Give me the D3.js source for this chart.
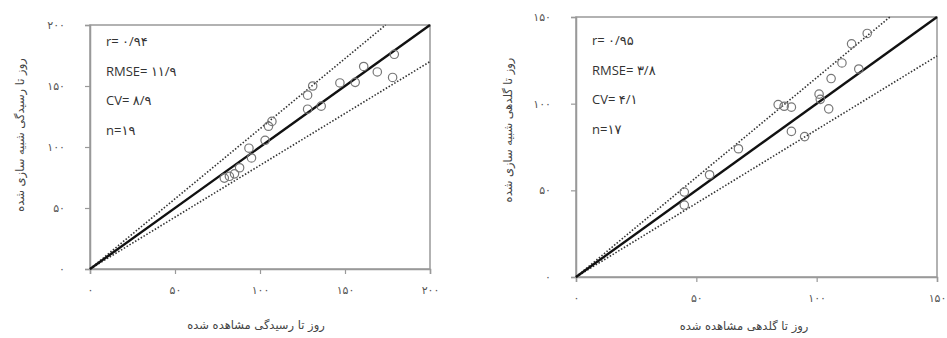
<!DOCTYPE html>
<html>
<head>
<meta charset="utf-8">
<script src="https://cdn.jsdelivr.net/npm/d3@7"></script>
<style>
  body { margin: 0; background: #fff; }
  svg { display: block; }
</style>
</head>
<body>
<div id="chart"></div>
<script>
// left panel: days to maturity (observed vs simulated)
const maturityObs = [179, 169, 161, 178, 156, 147, 131, 128, 136, 128, 107, 105, 103, 93.5, 95, 88, 85, 82, 79];
const maturitySim = [176, 161.5, 166, 157, 153, 152.5, 150, 142.5, 133.5, 131, 121, 117, 105.5, 99, 91, 83, 78, 76, 74.5];
const maturityTicks = [0, 50, 100, 150, 200];
const maturityStats = ["r= ۰/۹۴", "RMSE= ۱۱/۹", "CV= ۸/۹", "n=۱۹"];

// right panel: days to flowering (observed vs simulated)
const floweringObs = [121, 114.5, 110.5, 117.5, 106, 101, 101.5, 105, 84, 86.5, 89.5, 89.5, 95, 67.5, 55.5, 45, 45];
const floweringSim = [140.5, 134.5, 123.5, 120, 114.5, 105.5, 102.5, 97, 99.5, 98.5, 98, 84, 81, 74, 59, 49, 41.5];
const floweringTicks = [0, 50, 100, 150];
const floweringStats = ["r= ۰/۹۵", "RMSE= ۳/۸", "CV= ۴/۱", "n=۱۷"];

const bandFactors = [1.15, 0.85];

const faDigits = "۰۱۲۳۴۵۶۷۸۹";
const toFa = v => String(v).replace(/[0-9]/g, d => faDigits[+d]);

const svg = d3.select("#chart").append("svg")
  .attr("width", 947)
  .attr("height", 338);

function drawPanel(opt) {
  const { obs, sim, ticks, stats, left, right, top, bottom, xTitle, yTitle, xTitleX, xTitleY, yTitleX, yTitleY, labelY } = opt;
  const maxV = ticks[ticks.length - 1];

  const x = d3.scaleLinear().domain([0, maxV]).range([left, right]);
  const y = d3.scaleLinear().domain([0, maxV]).range([bottom, top]);

  const g = svg.append("g");

  // frame
  g.append("rect")
    .attr("x", left).attr("y", top)
    .attr("width", right - left).attr("height", bottom - top)
    .attr("fill", "none")
    .attr("stroke", "#999")
    .attr("stroke-width", 1.5);

  const xAxis = d3.axisBottom(x).tickValues(ticks).tickSize(5).tickPadding(12).tickFormat(toFa);
  const yAxis = d3.axisLeft(y).tickValues(ticks).tickSize(5).tickPadding(20).tickFormat(toFa);

  const gx = g.append("g").attr("transform", `translate(0,${bottom})`).call(xAxis);
  const gy = g.append("g").attr("transform", `translate(${left},0)`).call(yAxis);
  [gx, gy].forEach(a => {
    a.select(".domain").attr("stroke", "#999").attr("stroke-width", 1.5);
    a.selectAll(".tick line").attr("stroke", "#999").attr("stroke-width", 1.2);
    a.selectAll(".tick text")
      .attr("fill", "#555")
      .style("font-family", "'DejaVu Sans', sans-serif")
      .style("font-size", "11px")
      .style("letter-spacing", "2px");
  });

  // dotted ±15% lines
  bandFactors.forEach(f => {
    const endX = Math.min(maxV, maxV / f);
    g.append("line")
      .attr("x1", x(0)).attr("y1", y(0))
      .attr("x2", x(endX)).attr("y2", y(endX * f))
      .attr("stroke", "#333")
      .attr("stroke-width", 1.6)
      .attr("stroke-dasharray", "1.5,1.8");
  });

  // 1:1 line
  g.append("line")
    .attr("x1", x(0)).attr("y1", y(0))
    .attr("x2", x(maxV)).attr("y2", y(maxV))
    .attr("stroke", "#111")
    .attr("stroke-width", 2.4);

  g.selectAll("circle.pt")
    .data(obs.map((o, i) => [o, sim[i]]))
    .enter()
    .append("circle")
    .attr("class", "pt")
    .attr("cx", d => x(d[0]))
    .attr("cy", d => y(d[1]))
    .attr("r", 4.2)
    .attr("fill", "none")
    .attr("stroke", "#777")
    .attr("stroke-width", 1.2);

  // statistics
  g.selectAll("text.stat")
    .data(stats)
    .enter()
    .append("text")
    .attr("class", "stat")
    .attr("x", left + 16)
    .attr("y", (d, i) => labelY + i * 29.5)
    .attr("dominant-baseline", "middle")
    .attr("fill", "#333")
    .style("font-family", "'Open Sans', 'DejaVu Sans', sans-serif")
    .style("font-size", "13px")
    .text(d => d);

  g.append("text")
    .attr("x", xTitleX)
    .attr("y", xTitleY)
    .attr("text-anchor", "middle")
    .attr("fill", "#444")
    .style("font-family", "'DejaVu Sans', sans-serif")
    .style("font-size", "11.5px")
    .text(xTitle);

  g.append("text")
    .attr("transform", `translate(${yTitleX},${yTitleY}) rotate(-90)`)
    .attr("text-anchor", "middle")
    .attr("dominant-baseline", "middle")
    .attr("fill", "#444")
    .style("font-family", "'DejaVu Sans', sans-serif")
    .style("font-size", "11.5px")
    .text(yTitle);
}

drawPanel({
  obs: maturityObs, sim: maturitySim, ticks: maturityTicks, stats: maturityStats,
  left: 90, right: 430, top: 25, bottom: 269,
  xTitle: "روز تا رسیدگی مشاهده شده", yTitle: "روز تا رسیدگی شبیه سازی شده",
  xTitleX: 256, xTitleY: 329, yTitleX: 20, yTitleY: 135, labelY: 43
});

drawPanel({
  obs: floweringObs, sim: floweringSim, ticks: floweringTicks, stats: floweringStats,
  left: 576, right: 937, top: 17, bottom: 277,
  xTitle: "روز تا گلدهی مشاهده شده", yTitle: "روز تا گلدهی شبیه سازی شده",
  xTitleX: 744, xTitleY: 330, yTitleX: 508, yTitleY: 130, labelY: 42
});
</script>
</body>
</html>
